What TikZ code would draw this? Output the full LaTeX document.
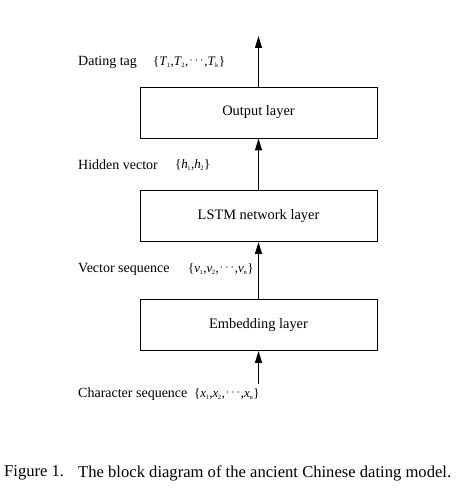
\documentclass[tikz,border=0pt]{standalone}
\usepackage{fontspec}
\setmainfont{Liberation Serif}
\usetikzlibrary{arrows.meta}
\tikzset{
  layerbox/.style={draw, line width=0.9pt, minimum width=237pt, minimum height=51pt, inner sep=0pt, font=\fontsize{14.4}{16}\selectfont},
  lbl/.style={anchor=west, inner sep=0pt, font=\fontsize{14}{16}\selectfont},
  setlbl/.style={anchor=west, inner sep=0pt, font=\fontsize{13}{15}\selectfont},
  caption/.style={anchor=west, inner sep=0pt, font=\fontsize{16.6}{19}\selectfont},
  flow/.style={line width=1.1pt, -{Triangle[width=7pt,length=12pt]}}
}
\newcommand{\vsub}[2]{\textit{#1}\kern-0.5pt\textsubscript{\fontsize{6.5}{7}\selectfont #2}}
\newcommand{\mydots}{\kern1pt\raisebox{0.35ex}{\textbf{$\cdots$}}\kern1pt}
\begin{document}
\begin{tikzpicture}[x=1pt,y=-1pt]
\useasboundingbox (0,0) rectangle (465,494);
\node[layerbox] (out) at (258.5,112.5) {Output layer};
\node[layerbox] (lstm) at (258.5,216) {LSTM network layer};
\node[layerbox] (emb) at (258.5,325) {Embedding layer};
\coordinate (top) at (258.5,36);
\coordinate (bot) at (258.5,384);
\draw[flow] (bot) -- (emb.south);
\draw[flow] (emb.north) -- (lstm.south);
\draw[flow] (lstm.north) -- (out.south);
\draw[flow] (out.north) -- (top);
\node[lbl] (l1) at (78,62) {Dating tag};
\node[setlbl] (s1) at (153,62) {\{\vsub{T}{1},\vsub{T}{2},\mydots,\vsub{T}{k}\}};
\node[lbl] (l2) at (78,165) {Hidden vector};
\node[setlbl] (s2) at (175,165) {\{\vsub{h}{1},\vsub{h}{2}\}};
\node[lbl] (l3) at (78,269) {Vector sequence};
\node[setlbl] (s3) at (188,269) {\{\vsub{v}{1},\vsub{v}{2},\mydots,\vsub{v}{n}\}};
\node[lbl] (l4) at (78,394) {Character sequence};
\node[setlbl] (s4) at (194,394) {\{\vsub{x}{1},\vsub{x}{2},\mydots,\vsub{x}{n}\}};
\node[caption] (cap) at (4,473) {Figure 1.};
\node[caption] (cap2) at (78,473) {The block diagram of the ancient Chinese dating model.};
\end{tikzpicture}
\end{document}
